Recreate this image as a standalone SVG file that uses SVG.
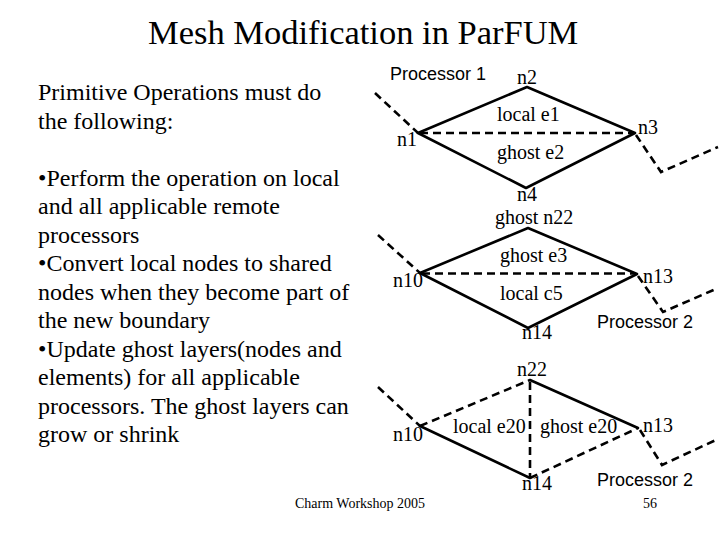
<svg xmlns="http://www.w3.org/2000/svg" width="720" height="540" viewBox="0 0 720 540">
<style>
.t{font-family:"Liberation Serif","Times New Roman","DejaVu Serif",serif;fill:#000}
.body{font-size:24px}
.lbl{font-size:20px}
.proc{font-family:"Liberation Sans",Arial,sans-serif;font-size:18px;fill:#000}
.solid{stroke:#000;stroke-width:2.6;fill:none;stroke-linecap:round;stroke-linejoin:round}
.dash{stroke:#000;stroke-width:2.6;fill:none;stroke-dasharray:8 5}
</style>
<rect width="720" height="540" fill="#fff"/>
<g id="title"><text class="t" x="148" y="44" font-size="34.5">Mesh Modification in ParFUM</text></g>
<g id="body-text" class="t body">
<text x="38" y="100">Primitive Operations must do</text>
<text x="38" y="128.5">the following:</text>
<text x="38" y="185.5">•Perform the operation on local</text>
<text x="38" y="214">and all applicable remote</text>
<text x="38" y="242.5">processors</text>
<text x="38" y="271">•Convert local nodes to shared</text>
<text x="38" y="299.5">nodes when they become part of</text>
<text x="38" y="328">the new boundary</text>
<text x="38" y="356.5">•Update ghost layers(nodes and</text>
<text x="38" y="385">elements) for all applicable</text>
<text x="38" y="413.5">processors. The ghost layers can</text>
<text x="38" y="442">grow or shrink</text>
</g>
<g id="connectors">
<path class="solid" d="M418,133 L527,87 L635,133 L526,188 Z"/>
<path class="dash" d="M420,133 L633,133"/>
<path class="dash" d="M375,93 L418,133"/>
<path class="dash" d="M636,135 L661,172 L718,147"/>
<path class="solid" d="M420,273 L528,228 L637,274 L528,328 Z"/>
<path class="dash" d="M422,273.5 L635,273.5"/>
<path class="dash" d="M378,235 L420,273"/>
<path class="dash" d="M638,276 L663,312 L718,288"/>
<path class="solid" d="M530,380 L638,428"/>
<path class="solid" d="M420,426 L530,478"/>
<path class="dash" d="M420,426 L530,380"/>
<path class="dash" d="M530,382 L530,478"/>
<path class="dash" d="M530,478 L638,428"/>
<path class="dash" d="M378,387 L420,426"/>
<path class="dash" d="M640,430 L662,465 L718,439"/>
</g>
<g id="diagram-top">
<g id="processor1"><text class="proc" x="390" y="80">Processor 1</text></g>
<g id="n2"><text class="t lbl" x="517" y="84">n2</text></g>
<g id="e1"><text class="t lbl" x="497" y="121">local e1</text></g>
<g id="n3"><text class="t lbl" x="638" y="134">n3</text></g>
<g id="n1"><text class="t lbl" x="397" y="146">n1</text></g>
<g id="e2"><text class="t lbl" x="497" y="159">ghost e2</text></g>
<g id="n4"><text class="t lbl" x="517" y="201">n4</text></g>
</g>
<g id="diagram-middle">
<g id="n22a"><text class="t lbl" x="495" y="224">ghost n22</text></g>
<g id="e3"><text class="t lbl" x="500" y="262">ghost e3</text></g>
<g id="c5"><text class="t lbl" x="500" y="300">local c5</text></g>
<g id="n10a"><text class="t lbl" x="393" y="287">n10</text></g>
<g id="n13a"><text class="t lbl" x="643" y="283">n13</text></g>
<g id="processor2a"><text class="proc" x="597" y="328">Processor 2</text></g>
<g id="n14a"><text class="t lbl" x="522" y="339">n14</text></g>
</g>
<g id="diagram-bottom">
<g id="n22b"><text class="t lbl" x="517" y="376">n22</text></g>
<g id="e20l"><text class="t lbl" x="453" y="433">local e20</text></g>
<g id="e20g"><text class="t lbl" x="540" y="433">ghost e20</text></g>
<g id="n13b"><text class="t lbl" x="643" y="432">n13</text></g>
<g id="n10b"><text class="t lbl" x="393" y="441">n10</text></g>
<g id="processor2b"><text class="proc" x="597" y="486">Processor 2</text></g>
<g id="n14b"><text class="t lbl" x="522" y="490">n14</text></g>
</g>
<g id="footer">
<text class="t" x="295" y="508" font-size="14">Charm Workshop 2005</text>
<text class="t" x="643" y="508" font-size="14">56</text>
</g>
</svg>
